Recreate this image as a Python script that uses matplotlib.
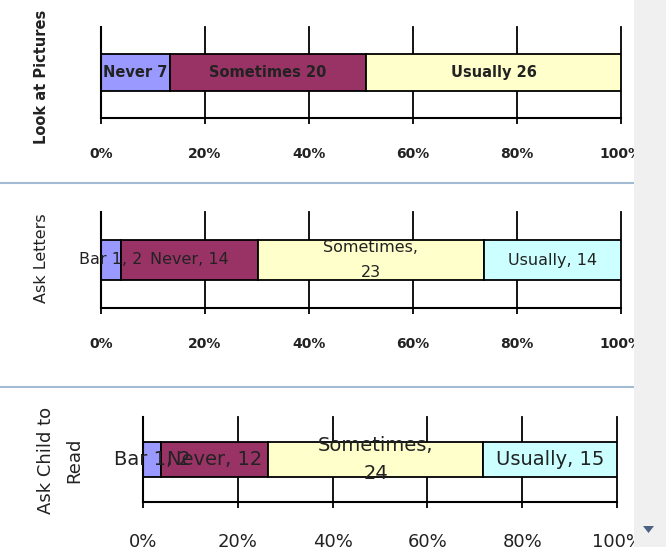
import matplotlib.pyplot as plt
from matplotlib.patches import Rectangle, Polygon
import numpy as np

# data
pic_names = ['Never', 'Sometimes', 'Usually']
pic_values = [7, 20, 26]
pic_colors = ['#9999ff', '#993366', '#ffffcc']

let_names = ['Bar 1', 'Never', 'Sometimes', 'Usually']
let_values = [2, 14, 23, 14]
let_colors = ['#9999ff', '#993366', '#ffffcc', '#ccffff']

read_names = ['Bar 1', 'Never', 'Sometimes', 'Usually']
read_values = [2, 12, 24, 15]
read_colors = ['#9999ff', '#993366', '#ffffcc', '#ccffff']

tick_vals = [0, 0.2, 0.4, 0.6, 0.8, 1.0]
tick_labels = ['0%', '20%', '40%', '60%', '80%', '100%']

W, H = 666, 547
fig = plt.figure(figsize=(W / 100, H / 100), dpi=100)
fig.patch.set_facecolor('white')


def px_axes(x0, y0, x1, y1):
    return fig.add_axes([x0 / W, 1 - y1 / H, (x1 - x0) / W, (y1 - y0) / H])


def draw_panel(ax, names, values, colors, sep, fs, fw, tick_fs, tick_fw, pad,
               height, wrap_ls):
    total = sum(values)
    left = 0
    for n, v, c in zip(names, values, colors):
        w = v / total
        ax.barh(0, w, left=left, height=height, color=c, edgecolor='black',
                linewidth=1.3, zorder=2)
        txt = f'{n}{sep}{v}'
        ls = 1.2
        if n == 'Sometimes' and sep == ', ':
            txt = f'{n},\n{v}'
            ls = wrap_ls
        ax.text(left + w / 2, 0, txt, ha='center', va='center', fontsize=fs,
                fontweight=fw, color='#222222', linespacing=ls, zorder=3)
        left += w
    ax.set_xlim(0, 1)
    ax.set_ylim(-0.5, 0.5)
    ax.set_yticks([])
    ax.set_xticks(tick_vals)
    ax.set_xticklabels(tick_labels, fontsize=tick_fs, fontweight=tick_fw,
                       color='#222222')
    for x in tick_vals:
        ax.axvline(x, color='black', linewidth=1.3, zorder=1, clip_on=False)
    for s in ['top', 'right']:
        ax.spines[s].set_visible(False)
    for s in ['left', 'bottom']:
        ax.spines[s].set_linewidth(1.5)
    ax.tick_params(axis='x', direction='out', length=4, width=1.3, pad=pad)
    ax.patch.set_alpha(0)


ax1 = px_axes(101, 27, 621, 118)
draw_panel(ax1, pic_names, pic_values, pic_colors, ' ', 10.5, 'bold',
           10, 'bold', 17, 0.4, 1.2)

ax2 = px_axes(101, 212, 621, 308)
draw_panel(ax2, let_names, let_values, let_colors, ', ', 11.5, 'normal',
           10, 'bold', 17, 0.42, 1.85)

ax3 = px_axes(143, 417, 617, 502)
draw_panel(ax3, read_names, read_values, read_colors, ', ', 14, 'normal',
           13, 'normal', 18, 0.41, 1.65)

# y labels
fig.text(42 / W, 1 - 77 / H, 'Look at Pictures', rotation=90, ha='center',
         va='center', fontsize=10.5, fontweight='bold', color='#222222')
fig.text(42 / W, 1 - 258 / H, 'Ask Letters', rotation=90, ha='center',
         va='center', fontsize=11.5, color='#222222')
fig.text(60 / W, 1 - 460 / H, 'Ask Child to\nRead', rotation=90, ha='center',
         va='center', fontsize=13, color='#222222',
         multialignment='center', linespacing=1.75)

# separators between the charts
for yy in [183, 387]:
    fig.lines.append(plt.Line2D([0, 634 / W], [1 - yy / H, 1 - yy / H],
                                transform=fig.transFigure, color='#a3bad3',
                                linewidth=1.5))

# scrollbar on the right
fig.patches.append(Rectangle((634 / W, 0), 32 / W, 1, transform=fig.transFigure,
                             facecolor='#f0f0f0', edgecolor='none', zorder=10))
fig.patches.append(Polygon([[643 / W, 1 - 526 / H], [654 / W, 1 - 526 / H],
                            [648.5 / W, 1 - 533 / H]], closed=True,
                           transform=fig.transFigure, facecolor='#4d6184',
                           edgecolor='none', zorder=11))

fig.savefig('out.png', dpi=100)
